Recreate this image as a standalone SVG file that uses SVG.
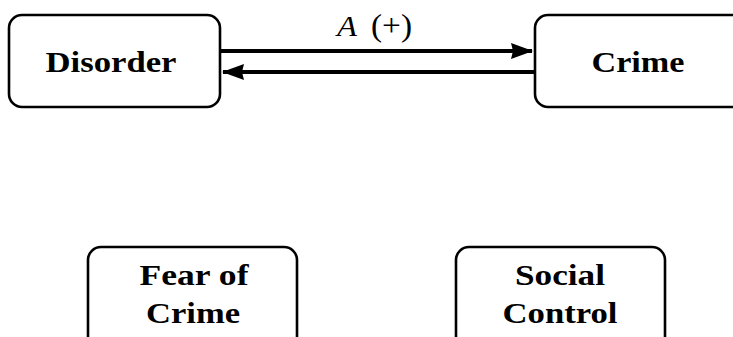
<svg xmlns="http://www.w3.org/2000/svg" width="733" height="337" viewBox="0 0 733 337">
  <defs>
    <style>
      .box { fill: #ffffff; stroke: #000000; stroke-width: 2.6; }
      .lbl { font-family: "Liberation Serif", "DejaVu Serif", serif; font-weight: bold; font-size: 30px; fill: #000000; text-anchor: middle; }
      .edge { stroke: #000000; stroke-width: 4; fill: none; }
      .math { font-family: "Liberation Serif", "DejaVu Serif", serif; font-size: 28px; fill: #000000; }
    </style>
    <marker id="head" viewBox="0 0 22 16" refX="21" refY="8" markerWidth="22" markerHeight="16" markerUnits="userSpaceOnUse" orient="auto">
      <path d="M0,0 L22,8 L0,16 L2,8 z" fill="#000000"/>
    </marker>
  </defs>
  <rect width="733" height="337" fill="#ffffff"/>

  <g id="disorder">
    <rect class="box" x="9" y="15" width="211" height="92" rx="13"/>
    <text class="lbl" x="111" y="72" textLength="131" lengthAdjust="spacingAndGlyphs">Disorder</text>
  </g>

  <g id="crime">
    <rect class="box" x="535" y="15" width="215" height="92" rx="13"/>
    <text class="lbl" x="638" y="72" textLength="93" lengthAdjust="spacingAndGlyphs">Crime</text>
  </g>

  <g id="fear-of-crime">
    <rect class="box" x="88" y="247" width="209" height="110" rx="13"/>
    <text class="lbl" x="194" y="285" textLength="109" lengthAdjust="spacingAndGlyphs">Fear of</text>
    <text class="lbl" x="193" y="323" textLength="94" lengthAdjust="spacingAndGlyphs">Crime</text>
  </g>

  <g id="social-control">
    <rect class="box" x="456" y="247" width="209" height="110" rx="13"/>
    <text class="lbl" x="560" y="285" textLength="90" lengthAdjust="spacingAndGlyphs">Social</text>
    <text class="lbl" x="560" y="323" textLength="115" lengthAdjust="spacingAndGlyphs">Control</text>
  </g>

  <g id="connectors">
    <line class="edge" x1="221" y1="51" x2="532" y2="51" marker-end="url(#head)"/>
    <line class="edge" x1="534" y1="72" x2="223" y2="72" marker-end="url(#head)"/>
    <text class="math" x="337" y="36"><tspan font-style="italic" font-size="29" textLength="20" lengthAdjust="spacingAndGlyphs">A</tspan><tspan x="371" font-size="32" textLength="41" lengthAdjust="spacingAndGlyphs">(+)</tspan></text>
  </g>
</svg>
